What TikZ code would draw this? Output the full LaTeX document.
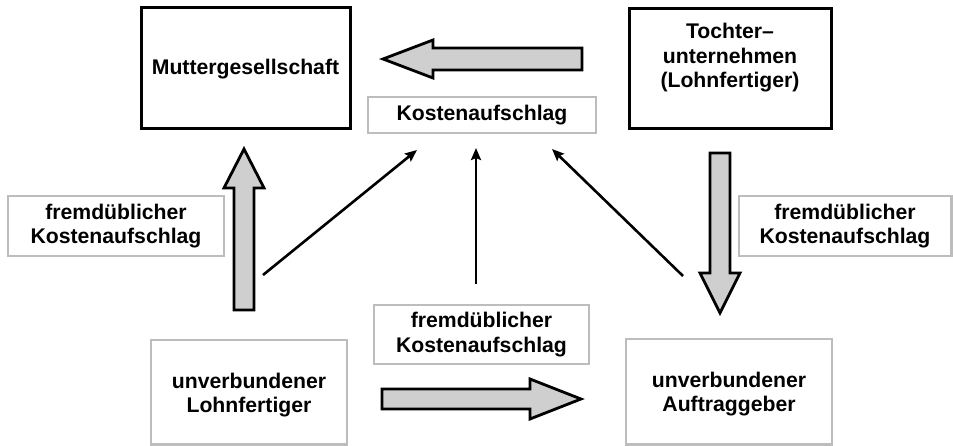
\documentclass[tikz,border=0pt]{standalone}
\usepackage{fontspec}
\setmainfont{Liberation Sans}
\usetikzlibrary{arrows.meta}
\definecolor{boxgray}{HTML}{BDBDBD}
\definecolor{arrowfill}{HTML}{CFCFCF}
\begin{document}
\begin{tikzpicture}[x=1pt,y=-1pt,
  txt/.style={font=\fontsize{21.2}{24.5}\selectfont\bfseries, align=center, inner sep=0pt},
  blackbox/.style={draw=black, line width=3pt, fill=white},
  graybox/.style={draw=boxgray, line width=2.8pt, fill=white},
  bigarrow/.style={draw=black, fill=arrowfill, line width=2.8pt, line join=miter},
  thin/.style={draw=black, line width=2.6pt, -{Stealth[length=12pt,width=10pt,inset=2pt]}}]
\useasboundingbox (0,0) rectangle (953,446);
% boxes
\draw[blackbox] (141,8) rectangle (350,129);
\node[txt] (mutter) at (245.5,69) {Muttergesellschaft};
\draw[blackbox] (629,9) rectangle (831,129);
\node[txt] (tochter) at (730,58) {Tochter--\\unternehmen\\(Lohnfertiger)};
\draw[graybox] (368,97) rectangle (596,133);
\node[txt] (kosten) at (482,115) {Kostenaufschlag};
\draw[graybox] (8,196) rectangle (224,256);
\node[txt] (fremdL) at (116,226) {fremdüblicher\\Kostenaufschlag};
\draw[graybox] (739,196) rectangle (951.5,256);
\node[txt] (fremdR) at (845,226) {fremdüblicher\\Kostenaufschlag};
\draw[graybox] (374,305) rectangle (589,364);
\node[txt] (fremdM) at (481.5,334.5) {fremdüblicher\\Kostenaufschlag};
\draw[graybox] (151,340) rectangle (347,444.5);
\node[txt] (lohn) at (249,395) {unverbundener\\Lohnfertiger};
\draw[graybox] (626,339) rectangle (832,444.5);
\node[txt] (auftrag) at (729,394) {unverbundener\\Auftraggeber};
% big block arrows
\draw[bigarrow] (582,48) -- (433,48) -- (433,40) -- (383,59) -- (433,78) -- (433,70) -- (582,70) -- cycle;
\draw[bigarrow] (234,310) -- (234,188) -- (224,188) -- (244,149) -- (264,188) -- (254,188) -- (254,310) -- cycle;
\draw[bigarrow] (710,153) -- (710,273) -- (700,273) -- (720,313) -- (740,273) -- (730,273) -- (730,153) -- cycle;
\draw[bigarrow] (382,389) -- (530,389) -- (530,379) -- (581,399) -- (530,419) -- (530,409) -- (382,409) -- cycle;
% thin arrows
\coordinate (s1) at (263,275);
\coordinate (e1) at (417,150);
\coordinate (s2) at (476,284);
\coordinate (e2) at (476,148);
\coordinate (s3) at (683,276);
\coordinate (e3) at (552,149);
\draw[thin] (s1) -- (e1);
\draw[thin] (s2) -- (e2);
\draw[thin] (s3) -- (e3);
\end{tikzpicture}
\end{document}
